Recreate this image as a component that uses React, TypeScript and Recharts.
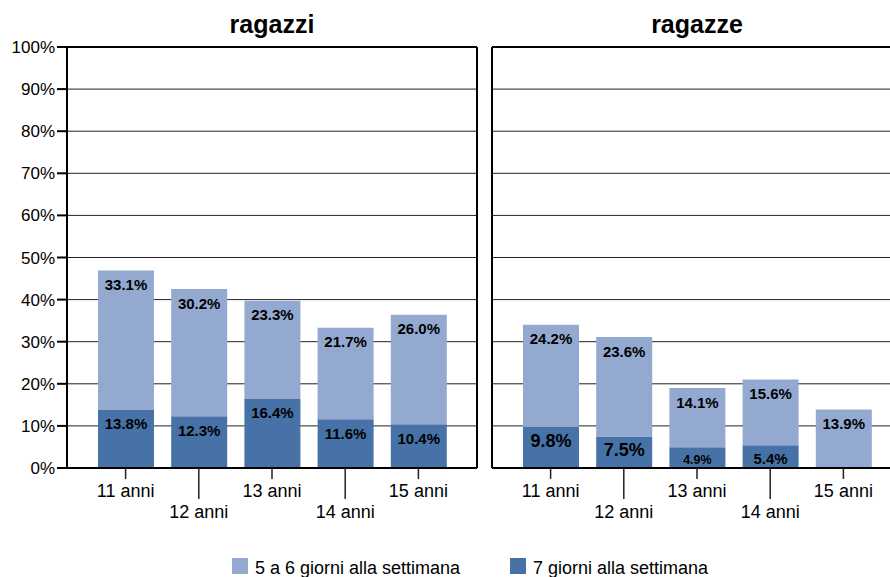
import React from 'react';
import { BarChart, Bar, XAxis, YAxis, CartesianGrid, LabelList } from 'recharts';

// età (asse x)
const AGES = ['11 anni', '12 anni', '13 anni', '14 anni', '15 anni'];

// ragazzi
const BOYS_7_DAYS = [13.8, 12.3, 16.4, 11.6, 10.4];
const BOYS_5_6_DAYS = [33.1, 30.2, 23.3, 21.7, 26.0];

// ragazze (15 anni: nessun valore per 7 giorni)
const GIRLS_7_DAYS = [9.8, 7.5, 4.9, 5.4, null];
const GIRLS_5_6_DAYS = [24.2, 23.6, 14.1, 15.6, 13.9];

const Y_TICKS = [0, 10, 20, 30, 40, 50, 60, 70, 80, 90, 100];
const SERIES_5_6 = '5 a 6 giorni alla settimana';
const SERIES_7 = '7 giorni alla settimana';

const LIGHT = '#93A9CF';
const DARK = '#4672A7';
const FONT = '"Liberation Sans", Arial, Helvetica, sans-serif';

// alcune etichette nell'originale hanno dimensioni diverse
const LABEL_SIZE: Record<string, number> = {
  'girls-dark-0': 18,
  'girls-dark-1': 18,
  'girls-dark-2': 12.5,
};

const buildRows = (dark: (number | null)[], light: number[]) =>
  AGES.map((age, i) => ({ age, dark: dark[i], light: light[i] }));

const boysData = buildRows(BOYS_7_DAYS, BOYS_5_6_DAYS);
const girlsData = buildRows(GIRLS_7_DAYS, GIRLS_5_6_DAYS);

const AgeTick = (props: any) => {
  const { x, y, payload, index } = props;
  const low = index % 2 === 1;
  return (
    <g>
      <line x1={x} x2={x} y1={y} y2={y + (low ? 31 : 11)} stroke="#222" strokeWidth={1.5} />
      <text x={x} y={y + (low ? 50 : 29)} textAnchor="middle" fontSize={18} fill="#000" fontFamily={FONT}>
        {payload.value}
      </text>
    </g>
  );
};

const NoTick = () => <g />;

const makeLabel = (panel: string, series: string) => (props: any) => {
  const { x, y, width, height, value, index } = props;
  if (value == null || !height) return null;
  const size = LABEL_SIZE[`${panel}-${series}-${index}`] ?? 15;
  const dy = Math.min(14, height / 2 + 2);
  return (
    <text
      x={x + width / 2}
      y={y + dy}
      textAnchor="middle"
      dominantBaseline="central"
      fontSize={size}
      fontWeight="bold"
      fill="#000"
      fontFamily={FONT}
    >
      {`${Number(value).toFixed(1)}%`}
    </text>
  );
};

const border = { stroke: '#000', strokeWidth: 2 };

// i bordi del riquadro sono assi senza tacche (larghezza/altezza 1 px)
const Panel = ({ data, panel, showY }: { data: any[]; panel: string; showY: boolean }) => (
  <BarChart
    width={showY ? 480 : 425}
    height={577}
    data={data}
    margin={{ top: 46, right: 2, bottom: 49, left: showY ? 0 : 11 }}
    barSize={56}
  >
    <CartesianGrid vertical={false} stroke="#222" strokeWidth={1} />
    <XAxis
      dataKey="age"
      interval={0}
      height={60}
      padding={{ left: 22, right: 22 }}
      tickSize={0}
      tickMargin={0}
      tickLine={false}
      axisLine={border}
      tick={<AgeTick />}
    />
    <XAxis xAxisId="top" dataKey="age" orientation="top" height={1} tick={false} tickLine={false} axisLine={border} />
    <YAxis
      domain={[0, 100]}
      ticks={Y_TICKS}
      interval={0}
      width={showY ? 67 : 1}
      tick={showY ? { fontSize: 17, fill: '#000', fontFamily: FONT } : <NoTick />}
      tickFormatter={(v: number) => `${v}%`}
      tickSize={10}
      tickLine={showY ? border : false}
      axisLine={border}
    />
    <YAxis yAxisId="right" orientation="right" domain={[0, 100]} width={1} tick={false} tickLine={false} axisLine={border} />
    <Bar dataKey="dark" name={SERIES_7} stackId="s" fill={DARK} isAnimationActive={false}>
      <LabelList dataKey="dark" content={makeLabel(panel, 'dark')} />
    </Bar>
    <Bar dataKey="light" name={SERIES_5_6} stackId="s" fill={LIGHT} isAnimationActive={false}>
      <LabelList dataKey="light" content={makeLabel(panel, 'light')} />
    </Bar>
  </BarChart>
);

const titleStyle: React.CSSProperties = {
  position: 'absolute',
  top: 12,
  width: 410,
  textAlign: 'center',
  fontSize: 25,
  lineHeight: 1,
  fontWeight: 'bold',
  fontFamily: FONT,
  color: '#000',
};

const LegendItem = ({ left, color, label }: { left: number; color: string; label: string }) => (
  <div style={{ position: 'absolute', left, top: 558, display: 'flex', alignItems: 'flex-start' }}>
    <div style={{ width: 16, height: 16, background: color }} />
    <div style={{ marginLeft: 7, fontSize: 18, lineHeight: 1, fontFamily: FONT, color: '#000', marginTop: 1 }}>{label}</div>
  </div>
);

export default function App() {
  return (
    <div
      style={{
        position: 'absolute',
        left: 0,
        top: 0,
        width: 890,
        height: 577,
        overflow: 'hidden',
        background: '#fff',
      }}
    >
      <div style={{ position: 'absolute', left: 0, top: 0 }}>
        <Panel data={boysData} panel="boys" showY />
      </div>
      <div style={{ position: 'absolute', left: 480, top: 0 }}>
        <Panel data={girlsData} panel="girls" showY={false} />
      </div>
      <div style={{ ...titleStyle, left: 67 }}>ragazzi</div>
      <div style={{ ...titleStyle, left: 492 }}>ragazze</div>
      <LegendItem left={232} color={LIGHT} label={SERIES_5_6} />
      <LegendItem left={510} color={DARK} label={SERIES_7} />
    </div>
  );
}
